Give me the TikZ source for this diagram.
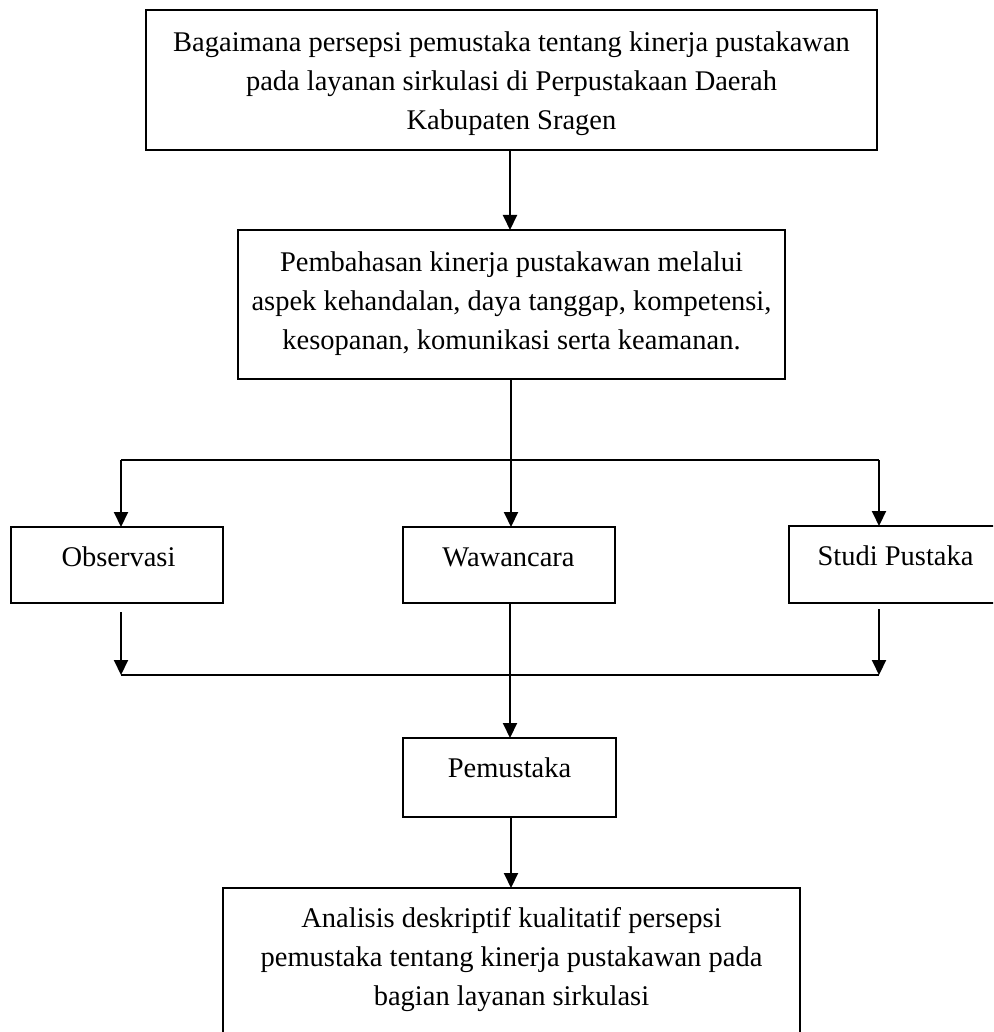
\documentclass[tikz,border=0pt]{standalone}
\usepackage{fontspec}
\setmainfont{Liberation Serif}
\usetikzlibrary{arrows.meta}
\begin{document}
\begin{tikzpicture}[x=0.5pt,y=-0.5pt,
  box/.style={draw, line width=1pt, inner sep=0pt, outer sep=0pt, rectangle},
  txt/.style={inner sep=0pt, align=center, font=\fontsize{14.25pt}{19.5pt}\selectfont},
  conn/.style={line width=1pt},
  arr/.style={line width=1pt, -{Triangle[width=7pt,length=7.5pt]}}]
\useasboundingbox (0,0) rectangle (993,1032);
\clip (0,0) rectangle (993,1032);
% boxes
\node[box, minimum width=365.5pt, minimum height=70pt] (top) at (511.5,80) {};
\node[box, minimum width=273.5pt, minimum height=74.5pt] (mid) at (511.5,304.5) {};
\node[box, minimum width=106pt, minimum height=38pt] (obs) at (117,565) {};
\node[box, minimum width=106pt, minimum height=38pt] (waw) at (509,565) {};
\node[box, minimum width=106pt, minimum height=38.5pt] (stu) at (895,564.5) {};
\node[box, minimum width=106.5pt, minimum height=39.5pt] (pem) at (509.5,777.5) {};
\node[box, minimum width=288.5pt, minimum height=78.5pt] (ana) at (511.5,966.5) {};
% texts
\node[txt] (ttop) at (511.5,84) {Bagaimana persepsi pemustaka tentang kinerja pustakawan\\pada layanan sirkulasi di Perpustakaan Daerah\\Kabupaten Sragen};
\node[txt] (tmid) at (511.5,304) {Pembahasan kinerja pustakawan melalui\\aspek kehandalan, daya tanggap, kompetensi,\\kesopanan, komunikasi serta keamanan.};
\node[txt, anchor=base] (tobs) at (118.5,566) {Observasi};
\node[txt, anchor=base] (twaw) at (508.5,566) {Wawancara};
\node[txt, anchor=base] (tstu) at (895.5,565) {Studi Pustaka};
\node[txt, anchor=base] (tpem) at (509.5,777) {Pemustaka};
\node[txt] (tana) at (511.5,959.5) {Analisis deskriptif kualitatif persepsi\\pemustaka tentang kinerja pustakawan pada\\bagian layanan sirkulasi};
% junction coordinates
\coordinate (j1) at (511,460);
\coordinate (hl) at (121,460);
\coordinate (hr) at (879,460);
\coordinate (os) at (121,612);
\coordinate (ss) at (879,609);
\coordinate (bl) at (121,675);
\coordinate (br) at (879,675);
% connectors
\draw[arr] (top.south -| 510,0) -- (mid.north -| 510,0);
\draw[conn] (mid.south -| j1) -- (j1);
\draw[conn] (hl) -- (hr);
\draw[arr] (hl) -- (hl |- obs.north);
\draw[arr] (j1) -- (j1 |- waw.north);
\draw[arr] (hr) -- (hr |- stu.north);
\draw[arr] (os) -- (bl);
\draw[arr] (ss) -- (br);
\draw[conn] (bl) -- (br);
\draw[arr] (waw.south -| 510,0) -- (pem.north -| 510,0);
\draw[arr] (pem.south -| 511,0) -- (ana.north -| 511,0);
\end{tikzpicture}
\end{document}
